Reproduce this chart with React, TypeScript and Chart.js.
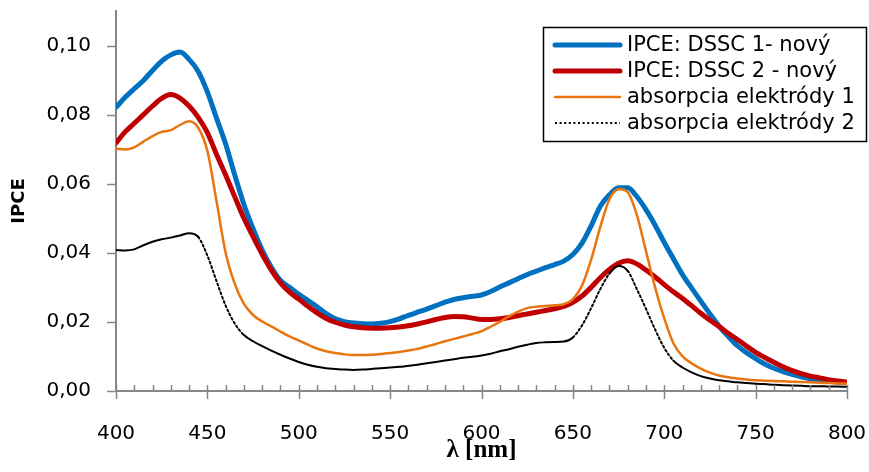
import React, { useEffect, useRef } from "react";
import { Chart, registerables } from "chart.js";
Chart.register(...registerables);

const W = 869;
const H = 472;
const AXIS_COLOR = "#878787";
const SANS = "'DejaVu Sans', sans-serif";

// Wavelengths (nm)
const wavelengths = [
  400, 405, 410, 415, 420, 425, 430, 435, 440, 445,
  450, 455, 460, 465, 470, 475, 480, 485, 490, 495,
  500, 505, 510, 515, 520, 525, 530, 535, 540, 545,
  550, 555, 560, 565, 570, 575, 580, 585, 590, 595,
  600, 605, 610, 615, 620, 625, 630, 635, 640, 645,
  650, 655, 660, 665, 670, 675, 680, 685, 690, 695,
  700, 705, 710, 715, 720, 725, 730, 735, 740, 745,
  750, 755, 760, 765, 770, 775, 780, 785, 790, 795,
  800,
];

const ipceDssc1 = [
  0.0821, 0.0850, 0.0875, 0.0899, 0.0928, 0.0955, 0.0973, 0.0981, 0.0960, 0.0925,
  0.0866, 0.0790, 0.0715, 0.0625, 0.0540, 0.0470, 0.0408, 0.0358, 0.0320, 0.0300,
  0.0280, 0.0262, 0.0244, 0.0224, 0.0209, 0.0201, 0.0197, 0.0195, 0.0194, 0.0196,
  0.0201, 0.0209, 0.0219, 0.0228, 0.0237, 0.0247, 0.0257, 0.0265, 0.0270, 0.0274,
  0.0278, 0.0288, 0.0301, 0.0313, 0.0325, 0.0337, 0.0347, 0.0357, 0.0366, 0.0376,
  0.0395, 0.0428, 0.0478, 0.0535, 0.0568, 0.0588, 0.0588, 0.0563, 0.0525, 0.0480,
  0.0430, 0.0383, 0.0337, 0.0298, 0.0260, 0.0223, 0.0188, 0.0158, 0.0131, 0.0111,
  0.0094, 0.0078, 0.0066, 0.0056, 0.0048, 0.0041, 0.0035, 0.0031, 0.0028, 0.0026,
  0.0024,
];

const ipceDssc2 = [
  0.0718, 0.0750, 0.0775, 0.0800, 0.0825, 0.0847, 0.0858, 0.0848, 0.0825, 0.0792,
  0.0748, 0.0685, 0.0625, 0.0562, 0.0500, 0.0447, 0.0396, 0.0350, 0.0313, 0.0286,
  0.0266, 0.0245, 0.0226, 0.0210, 0.0199, 0.0191, 0.0186, 0.0183, 0.0182, 0.0182,
  0.0183, 0.0185, 0.0189, 0.0194, 0.0200, 0.0207, 0.0213, 0.0216, 0.0215, 0.0211,
  0.0207, 0.0207, 0.0209, 0.0213, 0.0218, 0.0223, 0.0228, 0.0233, 0.0238, 0.0245,
  0.0257, 0.0275, 0.0300, 0.0328, 0.0352, 0.0370, 0.0377, 0.0368, 0.0350, 0.0330,
  0.0308, 0.0287, 0.0268, 0.0247, 0.0225, 0.0205, 0.0187, 0.0167, 0.0149, 0.0130,
  0.0112, 0.0097, 0.0083, 0.0070, 0.0059, 0.0050, 0.0043, 0.0038, 0.0033, 0.0029,
  0.0026,
];

const absorpcia1 = [
  0.0701, 0.0699, 0.0705, 0.0722, 0.0738, 0.0750, 0.0755, 0.0770, 0.0781, 0.0762,
  0.0695, 0.0550, 0.0400, 0.0310, 0.0252, 0.0220, 0.0201, 0.0187, 0.0172, 0.0158,
  0.0146, 0.0134, 0.0123, 0.0115, 0.0110, 0.0106, 0.0104, 0.0104, 0.0105, 0.0107,
  0.0110, 0.0113, 0.0117, 0.0122, 0.0129, 0.0136, 0.0144, 0.0151, 0.0158, 0.0165,
  0.0173, 0.0186, 0.0200, 0.0216, 0.0230, 0.0240, 0.0244, 0.0246, 0.0248, 0.0251,
  0.0266, 0.0305, 0.0380, 0.0475, 0.0555, 0.0585, 0.0576, 0.0510, 0.0405, 0.0300,
  0.0210, 0.0138, 0.0100, 0.0080, 0.0065, 0.0053, 0.0045, 0.0040, 0.0036, 0.0033,
  0.0031, 0.0030, 0.0029, 0.0028, 0.0027, 0.0026, 0.0025, 0.0024, 0.0023, 0.0022,
  0.0021,
];

const absorpcia2 = [
  0.0408, 0.0407, 0.0410, 0.0422, 0.0432, 0.0439, 0.0444, 0.0450, 0.0457, 0.0446,
  0.0392, 0.0318, 0.0247, 0.0195, 0.0162, 0.0144, 0.0130, 0.0117, 0.0105, 0.0094,
  0.0084, 0.0076, 0.0070, 0.0066, 0.0064, 0.0062, 0.0061, 0.0062, 0.0064, 0.0066,
  0.0068, 0.0070, 0.0073, 0.0076, 0.0080, 0.0084, 0.0088, 0.0092, 0.0096, 0.0099,
  0.0103, 0.0108, 0.0115, 0.0121, 0.0128, 0.0134, 0.0139, 0.0141, 0.0142, 0.0143,
  0.0155, 0.0190, 0.0240, 0.0295, 0.0340, 0.0362, 0.0348, 0.0295, 0.0238, 0.0178,
  0.0125, 0.0088, 0.0068, 0.0054, 0.0043, 0.0036, 0.0031, 0.0028, 0.0025, 0.0023,
  0.0021, 0.0020, 0.0018, 0.0017, 0.0016, 0.0015, 0.0014, 0.0014, 0.0013, 0.0013,
  0.0012,
];

const seriesLabels = [
  "IPCE: DSSC 1- nový",
  "IPCE: DSSC 2 - nový",
  "absorpcia elektródy 1",
  "absorpcia elektródy 2",
];

const xTickValues = [400, 450, 500, 550, 600, 650, 700, 750, 800];
const yTickValues = [0, 0.02, 0.04, 0.06, 0.08, 0.1];
const xAxisTitle = "λ [nm]";
const yAxisTitle = "IPCE";

const DOTS = [2, 2.6];

const toPoints = (vals: number[]) => wavelengths.map((w, i) => ({ x: w, y: vals[i] }));

const zeroPad = (s: any) => {
  s.paddingTop = 0;
  s.paddingBottom = 0;
  s.paddingLeft = 0;
  s.paddingRight = 0;
};

const decorPlugin = {
  id: "decor",
  afterDraw(chart: any) {
    const { ctx, chartArea, scales } = chart;
    const xs = scales.x;
    const ys = scales.y;
    ctx.save();
    ctx.strokeStyle = AXIS_COLOR;
    ctx.lineWidth = 1.5;
    ctx.beginPath();
    // x major ticks (crossing axis)
    for (const v of xTickValues) {
      const px = Math.round(xs.getPixelForValue(v)) + 0.5;
      ctx.moveTo(px, chartArea.bottom - 6);
      ctx.lineTo(px, chartArea.bottom + 8);
    }
    // x minor ticks (inside)
    for (let v = xs.min; v <= xs.max; v += 10) {
      if (v % 50 === 0) continue;
      const px = Math.round(xs.getPixelForValue(v)) + 0.5;
      ctx.moveTo(px, chartArea.bottom - 6);
      ctx.lineTo(px, chartArea.bottom);
    }
    // y major ticks (outside)
    for (const v of yTickValues) {
      const py = Math.round(ys.getPixelForValue(v)) + 0.5;
      ctx.moveTo(chartArea.left - 9, py);
      ctx.lineTo(chartArea.left, py);
    }
    ctx.stroke();

    // x tick labels
    ctx.fillStyle = "#000000";
    ctx.font = `20px ${SANS}`;
    ctx.textAlign = "center";
    ctx.textBaseline = "middle";
    for (const v of xTickValues) {
      ctx.fillText(String(v), xs.getPixelForValue(v), chartArea.bottom + 43);
    }

    // legend
    const bx = 543.5, by = 27.5, bw = 323, bh = 114;
    ctx.fillStyle = "#ffffff";
    ctx.fillRect(bx, by, bw, bh);
    ctx.strokeStyle = "#000000";
    ctx.lineWidth = 1.5;
    ctx.strokeRect(bx, by, bw, bh);
    ctx.font = `21px ${SANS}`;
    ctx.textBaseline = "middle";
    ctx.textAlign = "left";
    const rows = [45, 71, 97, 123];
    chart.data.datasets.forEach((ds: any, i: number) => {
      const ry = rows[i];
      ctx.save();
      ctx.strokeStyle = ds.borderColor;
      ctx.lineWidth = ds.borderWidth;
      ctx.lineCap = ds.legendDash ? "butt" : "round";
      ctx.setLineDash(ds.legendDash ? DOTS : []);
      ctx.beginPath();
      ctx.moveTo(555, ry);
      ctx.lineTo(620, ry);
      ctx.stroke();
      ctx.restore();
      ctx.fillStyle = "#000000";
      ctx.fillText(ds.label, 627, ry + 1);
    });
    ctx.restore();
  },
};

export default function App() {
  const ref = useRef<HTMLCanvasElement>(null);
  useEffect(() => {
    document.body.style.margin = "0";
    const chart = new Chart(ref.current as HTMLCanvasElement, {
      type: "line",
      data: {
        datasets: [
          {
            label: seriesLabels[0],
            data: toPoints(ipceDssc1),
            borderColor: "#0070C0",
            borderWidth: 5,
            order: 4,
          },
          {
            label: seriesLabels[1],
            data: toPoints(ipceDssc2),
            borderColor: "#C00000",
            borderWidth: 5,
            order: 3,
          },
          {
            label: seriesLabels[2],
            data: toPoints(absorpcia1),
            borderColor: "#E8750F",
            borderWidth: 2.5,
            order: 2,
          },
          {
            label: seriesLabels[3],
            data: toPoints(absorpcia2),
            borderColor: "#000000",
            borderWidth: 2,
            order: 1,
            legendDash: true,
            segment: {
              borderDash: (c: any) => {
                const dx = c.p1.x - c.p0.x;
                const dy = c.p1.y - c.p0.y;
                return Math.hypot(dx, dy) > 12 ? DOTS : undefined;
              },
            },
          } as any,
        ],
      },
      options: {
        responsive: false,
        animation: false,
        devicePixelRatio: 1,
        layout: { padding: { top: 11, right: 22, left: 0, bottom: 0 } },
        elements: {
          point: { radius: 0, hoverRadius: 0 },
          line: { cubicInterpolationMode: "monotone", borderCapStyle: "round", borderJoinStyle: "round" },
        },
        plugins: {
          legend: { display: false },
          tooltip: { enabled: false },
        },
        scales: {
          x: {
            type: "linear",
            min: 400,
            max: 800,
            afterFit: (s: any) => {
              s.height = 81;
              zeroPad(s);
            },
            afterBuildTicks: (s: any) => {
              s.ticks = xTickValues.map((v) => ({ value: v }));
            },
            grid: { display: false, drawTicks: false },
            border: { display: true, color: AXIS_COLOR, width: 2 },
            ticks: { display: false },
            title: {
              display: true,
              text: xAxisTitle,
              color: "#000000",
              font: { family: "'Liberation Serif', serif", size: 25, weight: "bold", lineHeight: 1.2 },
              padding: { top: 6, bottom: 6 },
            },
          },
          y: {
            type: "linear",
            min: 0,
            max: 0.11,
            afterFit: (s: any) => {
              s.width = 116;
              zeroPad(s);
            },
            afterBuildTicks: (s: any) => {
              s.ticks = yTickValues.map((v) => ({ value: v }));
            },
            grid: { display: false, drawTicks: false },
            border: { display: true, color: AXIS_COLOR, width: 2 },
            ticks: {
              color: "#000000",
              font: { family: SANS, size: 20 },
              padding: 25,
              autoSkip: false,
              callback: (v: any) => Number(v).toFixed(2).replace(".", ","),
            },
            title: {
              display: true,
              text: yAxisTitle,
              color: "#000000",
              font: { family: SANS, size: 18, weight: "bold", lineHeight: 1.2 },
              padding: { top: 9, bottom: 9 },
            },
          },
        },
      },
      plugins: [decorPlugin],
    } as any);
    return () => chart.destroy();
  }, []);
  return (
    <div style={{ width: W, height: H }}>
      <canvas ref={ref} width={W} height={H} style={{ display: "block", width: W, height: H }} />
    </div>
  );
}
